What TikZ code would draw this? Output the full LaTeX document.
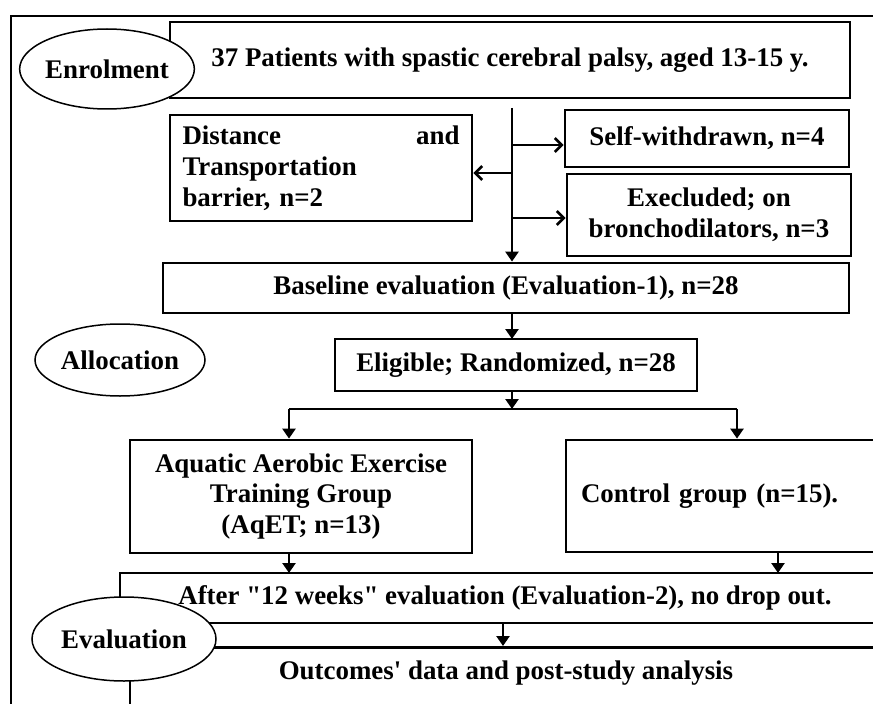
\documentclass[tikz,border=0pt]{standalone}
\usepackage{fontspec}
\setmainfont{Liberation Serif}[Ligatures=TeXOff]
\usetikzlibrary{arrows.meta,shapes.geometric}
\begin{document}
\begin{tikzpicture}[x=1bp,y=-1bp,
  box/.style={draw,line width=2.8bp,rectangle,inner sep=0pt,anchor=center,
    font=\bfseries\fontsize{27}{31}\selectfont},
  oval/.style={draw,ellipse,line width=1.5bp,fill=white,inner sep=0pt,
    font=\bfseries\fontsize{27}{31}\selectfont},
  arr/.style={line width=2.8bp,-{Triangle[length=10bp,width=13bp]}},
  harr/.style={line width=2.6bp,-{Straight Barb[length=7bp,width=14bp,line width=2.6bp]}},
  ln/.style={line width=2.8bp},
  frame/.style={line width=1.8bp}]
\useasboundingbox (0,0) rectangle (873,704);
\clip (0,0) rectangle (873,704);
\fill[white] (0,0) rectangle (873,704);
% outer frame
\coordinate (fbl) at (11,720);
\coordinate (ftl) at (11,16);
\coordinate (ftr) at (900,16);
\draw[frame] (fbl) -- (ftl) -- (ftr);
% boxes
\node[box,minimum width=680bp,minimum height=76bp] (top) at (510,60) {37 Patients with spastic cerebral palsy, aged 13-15 y.};
\node[box,minimum width=302bp,minimum height=106bp,text width=277bp,align=left] (dist) at (321,168) {Distance\hfill and\\Transportation\\barrier, n=2};
\node[box,minimum width=284bp,minimum height=57bp] (self) at (707,138.5) {Self-withdrawn, n=4};
\node[box,minimum width=284bp,minimum height=82bp,align=center] (excl) at (709,215) {Execluded; on\\bronchodilators, n=3};
\node[box,minimum width=686bp,minimum height=50bp] (base) at (506,288) {Baseline evaluation (Evaluation-1), n=28};
\node[box,minimum width=362bp,minimum height=52bp] (elig) at (516,365) {Eligible; Randomized, n=28};
\node[box,minimum width=342bp,minimum height=113bp,align=center] (aq) at (301,496.5) {Aquatic Aerobic Exercise\\Training Group\\(AqET; n=13)};
\node[box,minimum width=334bp,minimum height=112bp,text width=304bp,align=left] (ctrl) at (733,496) {Control group (n=15).};
\node[box,minimum width=770bp,minimum height=50bp] (after) at (505,598) {After "12 weeks" evaluation (Evaluation-2), no drop out.};
\node[box,minimum width=770bp,minimum height=64bp,anchor=north] (out) at (515,646) {};
\node[font=\bfseries\fontsize{27}{31}\selectfont] (outtxt) at (506,673) {Outcomes' data and post-study analysis};
% connectors
\coordinate (vtop) at (512,108);
\draw[arr] (vtop) -- (vtop |- base.north);
\draw[harr] (vtop |- 0,145) -- (self.west |- 0,145);
\draw[harr] (vtop |- 0,173) -- (dist.east |- 0,173);
\draw[harr] (vtop |- 0,218) -- (excl.west |- 0,218);
\draw[arr] (512,313) -- (512,339);
\coordinate (split) at (512,409);
\draw[arr] (elig.south -| split) -- (split);
\coordinate (sl) at (289,409);
\coordinate (sr) at (737,409);
\draw[ln] (sl) -- (sr);
\draw[arr] (sl) -- (sl |- aq.north);
\draw[arr] (sr) -- (sr |- ctrl.north);
\draw[arr] (289,553) -- (289,573);
\draw[arr] (778,552) -- (778,573);
\draw[arr] (503,623) -- (503,646);
% ovals
\node[oval,minimum width=174bp,minimum height=80bp] (enrol) at (107,69) {Enrolment};
\node[oval,minimum width=170bp,minimum height=72bp] (alloc) at (120,360) {Allocation};
\node[oval,minimum width=184bp,minimum height=84bp] (evalo) at (124,639) {Evaluation};
\end{tikzpicture}
\end{document}
